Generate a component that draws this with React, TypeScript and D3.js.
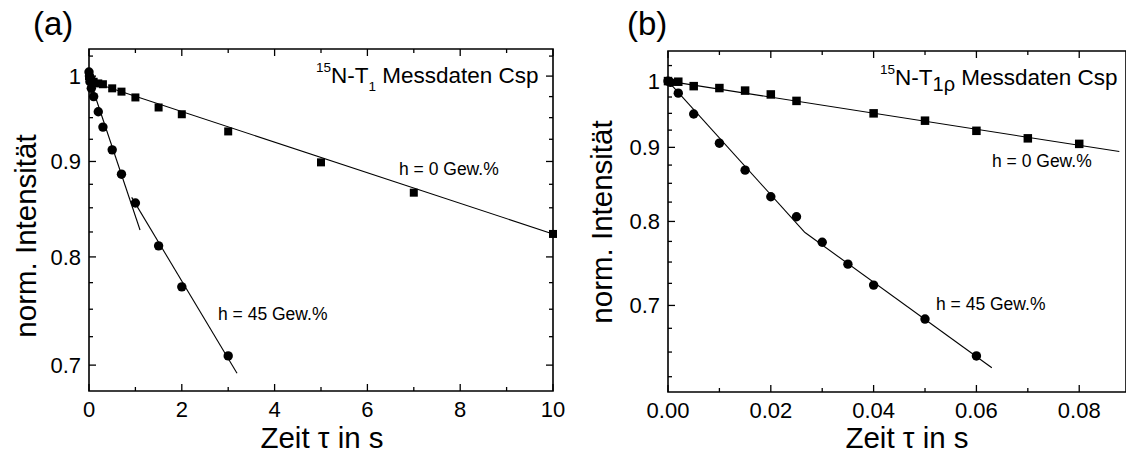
import React, { useEffect, useRef } from "react"
import * as d3 from "d3"

// (a) 15N-T1, time in s
const tA_h0 = [0, 0.02, 0.05, 0.1, 0.2, 0.3, 0.5, 0.7, 1, 1.5, 2, 3, 5, 7, 10]
const iA_h0 = [1.0, 0.997, 0.995, 0.993, 0.991, 0.99, 0.985, 0.981, 0.974, 0.962, 0.954, 0.934, 0.899, 0.866, 0.823]
const tA_h45 = [0, 0.01, 0.02, 0.05, 0.1, 0.2, 0.3, 0.5, 0.7, 1, 1.5, 2, 3]
const iA_h45 = [1.005, 1.0, 0.993, 0.985, 0.975, 0.957, 0.939, 0.913, 0.886, 0.855, 0.811, 0.771, 0.708]
// fitted curves (start/end)
const fitA_h0 = [[0, 0.994], [10, 0.823]]
const fitA_h45a = [[0, 0.998], [1.1, 0.827]]
const fitA_h45b = [[0.92, 0.861], [3.19, 0.693]]

// (b) 15N-T1rho, time in s
const tB_h0 = [0, 0.002, 0.005, 0.01, 0.015, 0.02, 0.025, 0.04, 0.05, 0.06, 0.07, 0.08]
const iB_h0 = [1.0, 0.999, 0.992, 0.989, 0.985, 0.979, 0.969, 0.95, 0.939, 0.924, 0.913, 0.905]
const tB_h45 = [0, 0.0005, 0.002, 0.005, 0.01, 0.015, 0.02, 0.025, 0.03, 0.035, 0.04, 0.05, 0.06]
const iB_h45 = [1.0, 0.998, 0.981, 0.949, 0.906, 0.868, 0.832, 0.806, 0.774, 0.7475, 0.723, 0.685, 0.646]
const fitB_h0 = [[0, 1.0], [0.0878, 0.894]]
const fitB_h45a = [[0, 1.0], [0.02665, 0.786]]
const fitB_h45b = [[0.02665, 0.786], [0.063, 0.634]]

const yMajor = [0.7, 0.8, 0.9, 1]
const xTicksA = [0, 2, 4, 6, 8, 10]
const xTicksB = [0, 0.02, 0.04, 0.06, 0.08]

const FONT = "Liberation Sans, Arial, sans-serif"

function drawPanel(svg, cfg) {
    const g = svg.append("g")
    const x = d3.scaleLinear().domain(cfg.xDomain).range([cfg.left, cfg.right])
    const y = d3.scaleLog().domain(cfg.yDomain).range([cfg.bottom, cfg.top])

    // frame
    g.append("path")
        .attr("d", `M${cfg.left},${cfg.top}H${cfg.right}V${cfg.bottom}H${cfg.left}Z`)
        .attr("fill", "none")
        .attr("stroke", "#000")
        .attr("stroke-width", 1.6)

    const tick = (x1, y1, x2, y2) =>
        g.append("line")
            .attr("x1", x1).attr("y1", y1).attr("x2", x2).attr("y2", y2)
            .attr("stroke", "#000").attr("stroke-width", 1.3)

    // x ticks, inward on bottom and top
    cfg.xMajor.forEach(v => {
        tick(x(v), cfg.bottom, x(v), cfg.bottom - 7)
        tick(x(v), cfg.top, x(v), cfg.top + 7)
        g.append("text")
            .attr("x", x(v)).attr("y", cfg.bottom + 26)
            .attr("text-anchor", "middle")
            .attr("font-size", 22)
            .text(cfg.xFormat(v))
    })
    cfg.xMinor.forEach(v => {
        tick(x(v), cfg.bottom, x(v), cfg.bottom - 4)
        tick(x(v), cfg.top, x(v), cfg.top + 4)
    })

    // y ticks
    const yMinor = d3.range(0.6, 1.06, 0.025)
        .map(v => +v.toFixed(3))
        .filter(v => v >= cfg.yDomain[0] && v <= cfg.yDomain[1] && !yMajor.some(m => Math.abs(m - v) < 1e-6))
    yMajor.forEach(v => {
        tick(cfg.left, y(v), cfg.left + 7, y(v))
        if (cfg.rightTicks) tick(cfg.right, y(v), cfg.right - 7, y(v))
        g.append("text")
            .attr("x", cfg.left - 8).attr("y", y(v) + 8)
            .attr("text-anchor", "end")
            .attr("font-size", 22)
            .text(v === 1 ? "1" : v.toFixed(1))
    })
    yMinor.forEach(v => {
        tick(cfg.left, y(v), cfg.left + 4, y(v))
        if (cfg.rightTicks) tick(cfg.right, y(v), cfg.right - 4, y(v))
    })

    // fit lines
    const line = d3.line().x(d => x(d[0])).y(d => y(d[1]))
    cfg.fits.forEach(f => {
        g.append("path")
            .attr("d", line(f))
            .attr("fill", "none")
            .attr("stroke", "#000")
            .attr("stroke-width", 1.1)
    })

    // squares (h = 0)
    g.selectAll("rect.sq")
        .data(d3.zip(cfg.sqT, cfg.sqI))
        .enter()
        .append("rect")
        .attr("x", d => x(d[0]) - cfg.sq / 2)
        .attr("y", d => y(d[1]) - cfg.sq / 2)
        .attr("width", cfg.sq)
        .attr("height", cfg.sq)
        .attr("fill", "#000")

    // circles (h = 45)
    g.selectAll("circle")
        .data(d3.zip(cfg.ciT, cfg.ciI))
        .enter()
        .append("circle")
        .attr("cx", d => x(d[0]))
        .attr("cy", d => y(d[1]))
        .attr("r", 4.7)
        .attr("fill", "#000")

    // axis titles
    g.append("text")
        .attr("transform", `translate(${cfg.yLabelX},${cfg.yLabelY}) rotate(-90)`)
        .attr("text-anchor", "middle")
        .attr("font-size", 29.5)
        .text("norm. Intensität")
    g.append("text")
        .attr("x", cfg.xLabelX).attr("y", 448)
        .attr("text-anchor", "middle")
        .attr("font-size", 29.5)
        .text("Zeit \u03c4 in s")

    // panel letter
    g.append("text")
        .attr("x", cfg.letterX).attr("y", 35)
        .attr("font-size", 33)
        .text(cfg.letter)

    return { x, y, g }
}

function App() {
    const ref = useRef(null)

    useEffect(() => {
        const svg = d3.select(ref.current)
        svg.selectAll("*").remove()
        svg.attr("font-family", FONT).attr("fill", "#000")

        const a = drawPanel(svg, {
            xDomain: [0, 10], yDomain: [0.678, 1.034],
            left: 89, right: 553, top: 49, bottom: 391,
            xMajor: xTicksA, xMinor: [1, 3, 5, 7, 9], xFormat: v => String(v),
            rightTicks: true,
            fits: [fitA_h0, fitA_h45a, fitA_h45b],
            sqT: tA_h0, sqI: iA_h0, ciT: tA_h45, ciI: iA_h45, sq: 8,
            yLabelX: 36, yLabelY: 236, xLabelX: 322,
            letter: "(a)", letterX: 33
        })
        const ta = a.g.append("text").attr("x", 316).attr("y", 83).attr("font-size", 22.5)
        ta.append("tspan").attr("font-size", 13.5).attr("dy", -11).text("15")
        ta.append("tspan").attr("dy", 11).text("N-T")
        ta.append("tspan").attr("font-size", 13.5).attr("dy", 8).text("1")
        ta.append("tspan").attr("dy", -8).text(" Messdaten Csp")
        a.g.append("text").attr("x", 399).attr("y", 175).attr("font-size", 17.5).text("h = 0 Gew.%")
        a.g.append("text").attr("x", 218).attr("y", 320).attr("font-size", 17.5).text("h = 45 Gew.%")

        const b = drawPanel(svg, {
            xDomain: [0, 0.0891], yDomain: [0.61, 1.049],
            left: 668, right: 1126, top: 51, bottom: 392,
            xMajor: xTicksB, xMinor: [0.01, 0.03, 0.05, 0.07], xFormat: v => v.toFixed(2),
            rightTicks: false,
            fits: [fitB_h0, fitB_h45a, fitB_h45b],
            sqT: tB_h0, sqI: iB_h0, ciT: tB_h45, ciI: iB_h45, sq: 8.5,
            yLabelX: 612, yLabelY: 222, xLabelX: 907,
            letter: "(b)", letterX: 627
        })
        const tb = b.g.append("text").attr("x", 880).attr("y", 85).attr("font-size", 22.5)
        tb.append("tspan").attr("font-size", 13.5).attr("dy", -11).text("15")
        tb.append("tspan").attr("dy", 11).text("N-T")
        tb.append("tspan").attr("font-size", 20).attr("dy", 6).text("1\u03c1")
        tb.append("tspan").attr("dy", -6).text(" Messdaten Csp")
        b.g.append("text").attr("x", 992).attr("y", 167).attr("font-size", 17.5).text("h = 0 Gew.%")
        b.g.append("text").attr("x", 936).attr("y", 310).attr("font-size", 17.5).text("h = 45 Gew.%")
    }, [])

    return (
        <svg
            ref={ref}
            width={1126}
            height={454}
            style={{ position: "absolute", left: 0, top: 0, background: "#fff" }}
        />
    )
}

export default App
